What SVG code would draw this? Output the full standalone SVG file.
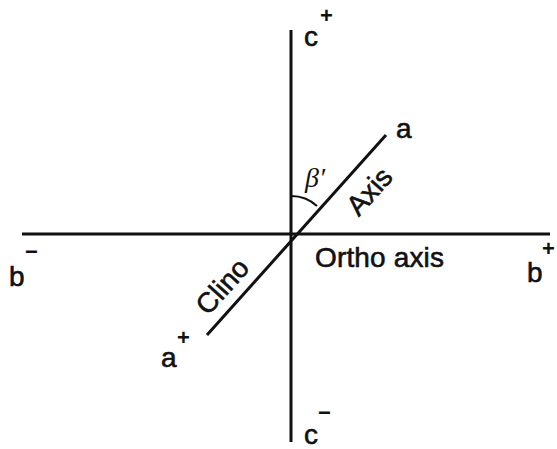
<svg xmlns="http://www.w3.org/2000/svg" width="557" height="449" viewBox="0 0 557 449">
<style>
.ax{stroke:#111;stroke-width:3;fill:none;stroke-linecap:butt}
.arc{stroke:#111;stroke-width:2;fill:none}
.t{font-family:"Liberation Sans",Arial,sans-serif;font-size:28px;fill:#111;stroke:#111;stroke-width:0.6}
.s{font-family:"Liberation Sans",Arial,sans-serif;font-size:22px;fill:#111;font-weight:bold}
.g{font-family:"Liberation Serif","Times New Roman",serif;font-size:28px;font-style:italic;fill:#111}
</style>
<rect width="557" height="449" fill="#fff"/>
<g id="connectors">
<line class="ax" x1="291" y1="30" x2="291" y2="442"/>
<line class="ax" x1="22" y1="234" x2="550" y2="234"/>
<line class="ax" x1="207" y1="335" x2="386" y2="135"/>
<path class="arc" d="M291,196 A38,38 0 0 1 317,206"/>
</g>
<g id="c-plus"><text class="t" x="304" y="46">c</text><text class="s" x="320" y="23">+</text></g>
<g id="c-minus"><text class="t" x="304" y="444">c</text><text class="s" x="318" y="420">−</text></g>
<g id="b-minus"><text class="t" x="9" y="286" font-size="30">b</text><text class="s" x="25" y="259">−</text></g>
<g id="b-plus"><text class="t" x="527" y="282" font-size="30">b</text><text class="s" x="542" y="256">+</text></g>
<g id="a-top"><text class="t" x="396" y="138">a</text></g>
<g id="a-plus"><text class="t" x="161" y="367">a</text><text class="s" x="177" y="345">+</text></g>
<g id="beta"><text class="g" x="305" y="187">β′</text></g>
<g id="axis-label"><text class="t" transform="translate(369,191) rotate(-48)" x="0" y="10" text-anchor="middle" font-size="27">Axis</text></g>
<g id="clino-label"><text class="t" transform="translate(222,286) rotate(-48)" x="0" y="10" text-anchor="middle">Clino</text></g>
<g id="ortho-label"><text class="t" x="315" y="267" textLength="129">Ortho axis</text></g>
</svg>
